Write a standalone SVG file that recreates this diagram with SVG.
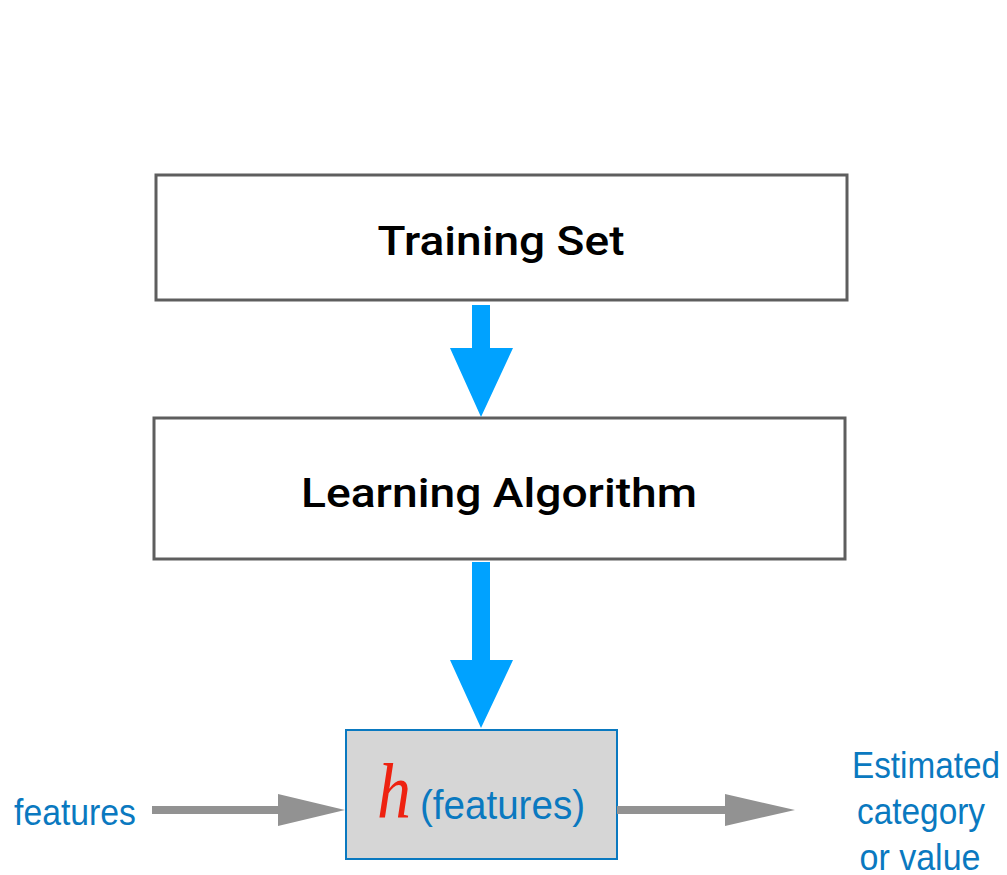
<svg xmlns="http://www.w3.org/2000/svg" width="1007" height="875" viewBox="0 0 1007 875">
<style>
.box{fill:#fff;stroke:#5e5e5e;stroke-width:3}
.hbox{fill:#d6d6d6;stroke:#0a79c0;stroke-width:2}
.title{font-family:Roboto,"Liberation Sans",Arial,sans-serif;font-size:41px;font-weight:500;fill:#000;text-anchor:middle}
.lbl{font-family:"Liberation Sans",Arial,sans-serif;font-size:37px;fill:#0a79c0}
.blue{fill:#00a2ff}
.gray{fill:#929292}
</style>
<rect width="1007" height="875" fill="#fff"/>
<g id="training-set">
<rect class="box" x="156" y="175" width="691" height="125"/>
<text class="title" x="501" y="255" textLength="247" lengthAdjust="spacingAndGlyphs">Training Set</text>
</g>
<g id="learning-algorithm">
<rect class="box" x="154" y="418" width="691" height="141"/>
<text class="title" x="499" y="507" textLength="396" lengthAdjust="spacingAndGlyphs">Learning Algorithm</text>
</g>
<g id="hypothesis">
<rect class="hbox" x="346" y="730" width="271" height="129"/>
<text x="377" y="818" style="font-family:'Liberation Serif','Times New Roman',serif;font-style:italic;font-size:78px;fill:#ee2211" textLength="34" lengthAdjust="spacingAndGlyphs">h</text>
<text class="lbl" x="420" y="819" style="font-size:41px" textLength="165" lengthAdjust="spacingAndGlyphs">(features)</text>
</g>
<g id="input-label">
<text class="lbl" x="14" y="825" textLength="122" lengthAdjust="spacingAndGlyphs">features</text>
</g>
<g id="output-label">
<text class="lbl" x="926" y="778" text-anchor="middle" textLength="148" lengthAdjust="spacingAndGlyphs">Estimated</text>
<text class="lbl" x="921" y="824" text-anchor="middle" textLength="128" lengthAdjust="spacingAndGlyphs">category</text>
<text class="lbl" x="920" y="870" text-anchor="middle" textLength="121" lengthAdjust="spacingAndGlyphs">or value</text>
</g>
<g id="connectors">
<polygon class="blue" points="472,305 490,305 490,348 513,348 481,417 450,348 472,348"/>
<polygon class="blue" points="472,562 490,562 490,660 513,660 481,728 450,660 472,660"/>
<polygon class="gray" points="152,806 278,806 278,794 345,810 278,826 278,814 152,814"/>
<polygon class="gray" points="617,806 725,806 725,794 795,810 725,826 725,814 617,814"/>
</g>
</svg>
